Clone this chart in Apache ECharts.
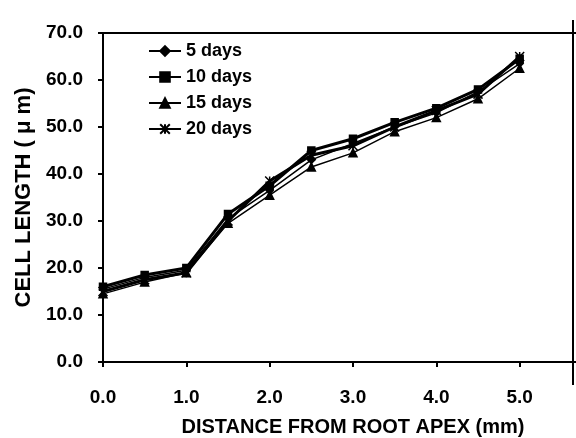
<!DOCTYPE html>
<html>
<head>
<meta charset="utf-8">
<script src="https://cdn.jsdelivr.net/npm/echarts@6/dist/echarts.min.js"></script>
<style>html,body{margin:0;padding:0;background:#fff}#c{width:576px;height:438px}</style>
</head>
<body>
<div id="c"></div>
<script>
const distances = [0, 0.5, 1.0, 1.5, 2.0, 2.5, 3.0, 3.5, 4.0, 4.5, 5.0];
const days5  = [15.5, 18.0, 19.5, 30.5, 36.5, 43.0, 46.5, 50.0, 53.0, 57.5, 63.5];
const days10 = [16.0, 18.5, 20.0, 31.5, 37.5, 45.0, 47.5, 51.0, 54.0, 58.0, 64.5];
const days15 = [14.5, 17.0, 19.0, 29.5, 35.5, 41.5, 44.5, 49.0, 52.0, 56.0, 62.5];
const days20 = [15.0, 17.5, 19.0, 30.0, 38.5, 44.0, 46.0, 50.0, 53.5, 57.0, 65.0];
const seriesNames = ['5 days', '10 days', '15 days', '20 days'];

const FONT = '"Liberation Sans", Arial, sans-serif';
const pair = arr => distances.map((d, i) => [d, arr[i]]);

const styles = [
  {data: days5,  width: 1.5, symbol: 'diamond', size: 7},
  {data: days10, width: 3,   symbol: 'rect',    size: 7},
  {data: days15, width: 1.5, symbol: 'triangle', size: 8},
  {data: days20, width: 3,   symbol: 'path://M0,0L10,10M10,0L0,10M5,0L5,10', size: 9}
];

const chart = echarts.init(document.getElementById('c'));
chart.setOption({
  animation: false,
  backgroundColor: '#fff',
  grid: {left: 103, width: 500, top: 33, height: 329, outerBoundsMode: 'none', containLabel: false,
    show: true, borderColor: '#000', borderWidth: 2},
  legend: {
    left: 143, top: 37, orient: 'vertical', itemWidth: 32, itemHeight: 12, itemGap: 8,
    textStyle: {fontFamily: FONT, fontWeight: 'bold', fontSize: 18, color: '#000'},
    data: seriesNames
  },
  xAxis: {
    type: 'value', min: 0, max: 6, interval: 1,
    name: 'DISTANCE FROM ROOT APEX (mm)', nameLocation: 'middle', nameGap: 55,
    nameTextStyle: {fontFamily: FONT, fontWeight: 'bold', fontSize: 20, color: '#000'},
    axisLine: {lineStyle: {color: '#000', width: 2}},
    axisTick: {show: true, length: 5, lineStyle: {color: '#000', width: 2}},
    axisLabel: {margin: 26, fontFamily: FONT, fontWeight: 'bold', fontSize: 19, color: '#000',
      formatter: v => v.toFixed(1)},
    splitLine: {show: false}
  },
  yAxis: {
    type: 'value', min: 0, max: 70, interval: 10,
    name: 'CELL LENGTH ( \u03bc m)', nameLocation: 'middle', nameGap: 64,
    nameTextStyle: {fontFamily: FONT, fontWeight: 'bold', fontSize: 22, color: '#000'},
    axisLine: {lineStyle: {color: '#000', width: 2}},
    axisTick: {show: true, length: 5, lineStyle: {color: '#000', width: 2}},
    axisLabel: {margin: 20, fontFamily: FONT, fontWeight: 'bold', fontSize: 19, color: '#000',
      formatter: v => v.toFixed(1)},
    splitLine: {show: false}
  },
  series: styles.map((s, i) => ({
    name: seriesNames[i],
    type: 'line',
    data: pair(s.data),
    symbol: s.symbol,
    symbolSize: s.size,
    lineStyle: {color: '#000', width: s.width},
    itemStyle: {color: '#000', borderColor: '#000', borderWidth: 1.5}
  })),
  graphic: [{
    type: 'line', shape: {x1: 573, y1: 20, x2: 573, y2: 385},
    style: {stroke: '#000', lineWidth: 2}, silent: true
  }]
});
</script>
</body>
</html>
